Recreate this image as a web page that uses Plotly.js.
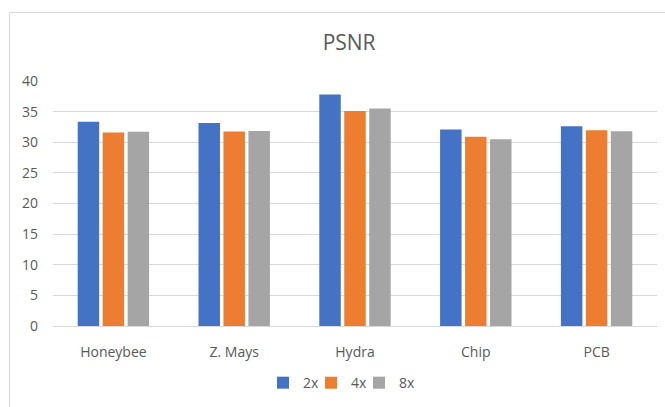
<!DOCTYPE html>
<html>
<head>
<meta charset="utf-8">
<script src="https://cdn.plot.ly/plotly-3.0.1.min.js"></script>
<style>
html,body{margin:0;padding:0;background:#fff;}
#wrap{position:relative;width:665px;height:407px;}
#chart{width:665px;height:407px;}
#frame{position:absolute;left:9px;top:12px;right:-2px;bottom:-2px;border-top:1px solid #d9d9d9;border-left:1px solid #d9d9d9;pointer-events:none;}
</style>
</head>
<body>
<div id="wrap"><div id="chart"></div><div id="frame"></div></div>
<script>
const categories = ["Honeybee", "Z. Mays", "Hydra", "Chip", "PCB"];
const seriesNames = ["2x", "4x", "8x"];
const values2x = [33.35, 33.15, 37.8, 32.1, 32.6];
const values4x = [31.6, 31.75, 35.1, 30.9, 31.95];
const values8x = [31.7, 31.85, 35.5, 30.5, 31.8];
const yTicks = [0, 5, 10, 15, 20, 25, 30, 35, 40];
const colors = ["#4472C4", "#ED7D31", "#A5A5A5"];

const legendIds = ["legend", "legend2", "legend3"];
const legendX = [0.3477, 0.4272, 0.5066];

const allValues = [values2x, values4x, values8x];
const data = allValues.map((v, i) => ({
  type: "bar",
  name: seriesNames[i],
  x: categories,
  y: v,
  legend: legendIds[i],
  marker: {color: colors[i], line: {width: 0}},
  hoverinfo: "x+y+name"
}));

const legendBase = (xpos) => ({
  orientation: "h",
  x: xpos, xanchor: "left",
  y: -0.233, yanchor: "middle",
  font: {size: 14, color: "#595959"},
  itemwidth: 30,
  bgcolor: "rgba(0,0,0,0)",
  borderwidth: 0
});

const layout = {
  width: 665,
  height: 407,
  margin: {l: 53, r: 8, t: 81, b: 81},
  paper_bgcolor: "#ffffff",
  plot_bgcolor: "#ffffff",
  font: {family: "Open Sans, sans-serif", color: "#595959", size: 14},
  title: {text: "PSNR", font: {size: 21, color: "#595959"}, x: 0.525, xanchor: "center", y: 0.895, yanchor: "middle"},
  barmode: "group",
  bargap: 0.38,
  bargroupgap: 0.14,
  xaxis: {
    showgrid: false,
    showline: true,
    linecolor: "#d9d9d9",
    linewidth: 1,
    ticks: "",
    tickfont: {size: 14, color: "#595959"},
    ticklabelstandoff: 13
  },
  yaxis: {
    range: [0, 40],
    tickvals: yTicks,
    ticktext: yTicks.map(String),
    showgrid: true,
    gridcolor: "#d9d9d9",
    gridwidth: 1,
    zeroline: false,
    showline: false,
    ticks: "",
    tickfont: {size: 14, color: "#595959"},
    ticklabelstandoff: 14
  },
  showlegend: true,
  legend: legendBase(legendX[0]),
  legend2: legendBase(legendX[1]),
  legend3: legendBase(legendX[2])
};

Plotly.newPlot("chart", data, layout, {displayModeBar: false, staticPlot: true});
</script>
</body>
</html>
